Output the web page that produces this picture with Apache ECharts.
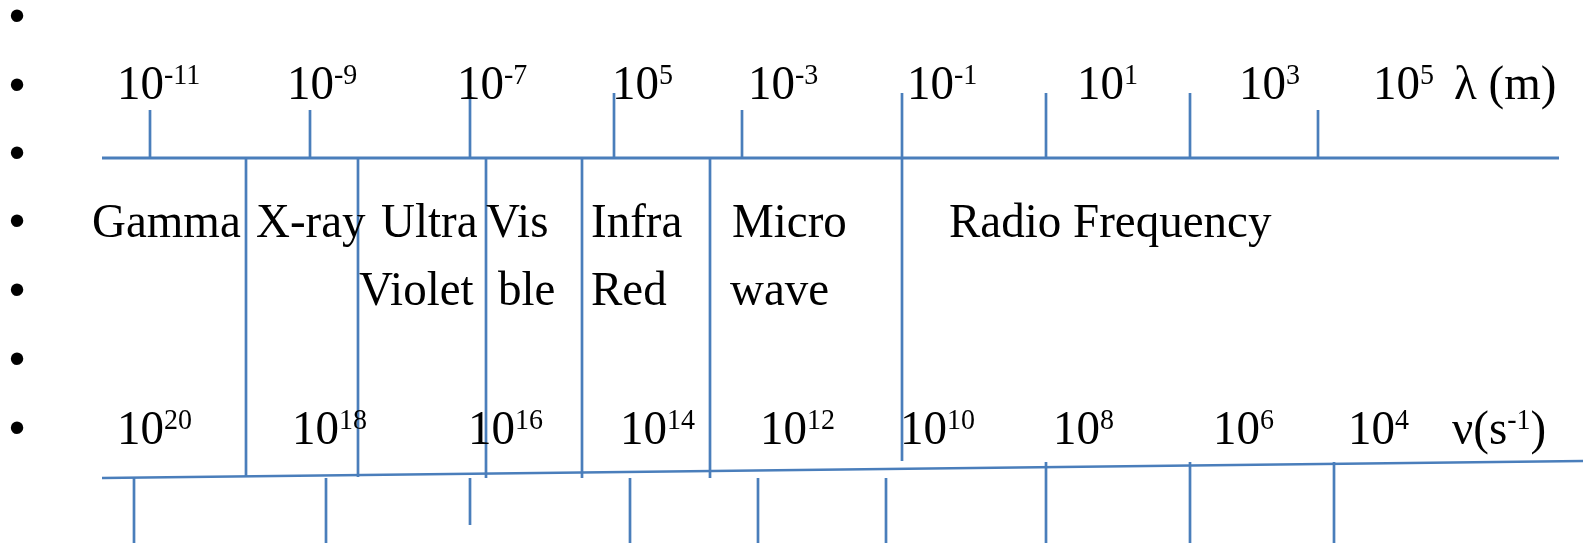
<!DOCTYPE html>
<html>
<head>
<meta charset="utf-8">
<script src="https://cdn.jsdelivr.net/npm/echarts@6/dist/echarts.min.js"></script>
<style>
html,body{margin:0;padding:0;background:#fff;}
#chart{width:1583px;height:543px;}
</style>
</head>
<body>
<div id="chart"></div>
<script>
// ---------------- data (diagram units on a 1583 x 543 drawing plane) ----------------
const bulletRows = [16, 85, 153, 221, 290, 359, 428];

const wavelengthExponents = ['-11', '-9', '-7', '5', '-3', '-1', '1', '3', '5'];
const wavelengthLabelX = [117, 287, 457, 612, 748, 907, 1077, 1239, 1373];
const wavelengthUnit = 'λ (m)';
const wavelengthUnitX = 1454;
const wavelengthTickX = [150, 310, 470, 614, 742, 902, 1046, 1190, 1318];
const wavelengthTickTop = [110, 110, 93, 93, 110, 93, 93, 93, 110];
const wavelengthAxis = [[102, 158], [1559, 158]];

const bandNames = [['Gamma'], ['X-ray'], ['Ultra', 'Violet'], ['Vis', 'ble'], ['Infra', 'Red'], ['Micro', 'wave'], ['Radio Frequency']];
const bandLabelX = [[92], [256], [381, 359], [486, 498], [591, 591], [732, 730], [949]];
const bandBoundaryX = [246, 358, 486, 582, 710, 902];
const bandBoundaryBottom = [477, 477, 478, 478, 478, 461];

const frequencyExponents = ['20', '18', '16', '14', '12', '10', '8', '6', '4'];
const frequencyLabelX = [117, 292, 468, 620, 760, 900, 1053, 1213, 1348];
const frequencyUnit = ['ν(s', '-1', ')'];
const frequencyUnitX = 1452;
const frequencyTickX = [134, 326, 470, 630, 758, 886, 1046, 1190, 1334];
const frequencyTickTop = [478, 478, 478, 478, 478, 478, 462, 462, 462];
const frequencyTickBottom = [543, 543, 525, 543, 543, 543, 543, 543, 543];
const frequencyAxis = [[102, 478], [1583, 461]];

// ---------------- layout / style ----------------
const W = 1583, H = 543;
const WL_BASELINE = 101.7, BAND_BASELINES = [240, 308], FQ_BASELINE = 446.7;
const SERIF = "'Liberation Serif', 'Times New Roman', serif";
const F = 47, FS = 28, RAISE = 14, MID = 0.32, STRETCH = 1.04;
const LS = 2 * (F / 2 + MID * F - RAISE - MID * FS);
const BLUE = '#4a7ebb';
const LW = 2.7;

const rich = {
  b: { fontFamily: SERIF, fontSize: F, lineHeight: F, fill: '#000' },
  s: { fontFamily: SERIF, fontSize: FS, lineHeight: LS, verticalAlign: 'top', fill: '#000' }
};

function richText(api, x, baseline, str) {
  const p = api.coord([x, baseline]);
  return {
    type: 'text',
    x: p[0],
    y: p[1],
    scaleY: STRETCH,
    style: {
      text: str, x: 0, y: -(F / 2 + MID * F), align: 'left', verticalAlign: 'top',
      fontFamily: SERIF, fontSize: F, lineHeight: F, fill: '#000',
      rich: rich
    }
  };
}
function seg(api, x1, y1, x2, y2) {
  const a = api.coord([x1, y1]), b = api.coord([x2, y2]);
  return { type: 'line', shape: { x1: a[0], y1: a[1], x2: b[0], y2: b[1] },
           style: { stroke: BLUE, lineWidth: LW } };
}

const chart = echarts.init(document.getElementById('chart'), null, { renderer: 'canvas' });
chart.setOption({
  animation: false,
  backgroundColor: '#fff',
  grid: { left: 0, right: 0, top: 0, bottom: 0, containLabel: false },
  xAxis: { type: 'value', min: 0, max: W, show: false },
  yAxis: { type: 'value', min: 0, max: H, inverse: true, show: false },
  series: [
    { // bullets
      type: 'custom', silent: true,
      data: bulletRows.map(y => [17, y]),
      renderItem: (params, api) => {
        const p = api.coord([api.value(0), api.value(1)]);
        return { type: 'text', x: p[0], y: p[1] + 2,
          style: { text: '•', align: 'center', verticalAlign: 'middle',
                   fontFamily: "'Liberation Sans', Arial, sans-serif", fontSize: 46, fill: '#000' } };
      }
    },
    { type: 'line', data: wavelengthAxis, symbol: 'none', silent: true,
      lineStyle: { color: BLUE, width: LW + 0.2 } },
    { type: 'line', data: frequencyAxis, symbol: 'none', silent: true,
      lineStyle: { color: BLUE, width: LW - 0.4 } },
    { // wavelength ticks (above the axis)
      type: 'custom', silent: true,
      data: wavelengthTickX.map((x, i) => [x, wavelengthTickTop[i]]),
      renderItem: (params, api) => seg(api, api.value(0), api.value(1), api.value(0), wavelengthAxis[0][1])
    },
    { // band boundaries
      type: 'custom', silent: true,
      data: bandBoundaryX.map((x, i) => [x, bandBoundaryBottom[i]]),
      renderItem: (params, api) => seg(api, api.value(0), wavelengthAxis[0][1], api.value(0), api.value(1))
    },
    { // frequency ticks (below the axis)
      type: 'custom', silent: true,
      data: frequencyTickX.map((x, i) => [x, frequencyTickTop[i], frequencyTickBottom[i]]),
      renderItem: (params, api) => seg(api, api.value(0), api.value(1), api.value(0), api.value(2))
    },
    { // wavelength labels
      type: 'custom', silent: true,
      data: wavelengthLabelX.map(x => [x, WL_BASELINE]),
      renderItem: (params, api) => richText(api, api.value(0), api.value(1),
        '{b|10}{s|' + wavelengthExponents[params.dataIndex] + '}')
    },
    { // wavelength unit
      type: 'custom', silent: true,
      data: [[wavelengthUnitX, WL_BASELINE]],
      renderItem: (params, api) => richText(api, api.value(0), api.value(1), '{b|' + wavelengthUnit + '}')
    },
    { // band names
      type: 'custom', silent: true,
      data: bandNames.flatMap((lines, i) => lines.map((t, j) => [bandLabelX[i][j], BAND_BASELINES[j], i, j])),
      renderItem: (params, api) => richText(api, api.value(0), api.value(1),
        '{b|' + bandNames[api.value(2)][api.value(3)] + '}')
    },
    { // frequency labels
      type: 'custom', silent: true,
      data: frequencyLabelX.map(x => [x, FQ_BASELINE]),
      renderItem: (params, api) => richText(api, api.value(0), api.value(1),
        '{b|10}{s|' + frequencyExponents[params.dataIndex] + '}')
    },
    { // frequency unit
      type: 'custom', silent: true,
      data: [[frequencyUnitX, FQ_BASELINE]],
      renderItem: (params, api) => richText(api, api.value(0), api.value(1),
        '{b|' + frequencyUnit[0] + '}{s|' + frequencyUnit[1] + '}{b|' + frequencyUnit[2] + '}')
    }
  ]
});
</script>
</body>
</html>
